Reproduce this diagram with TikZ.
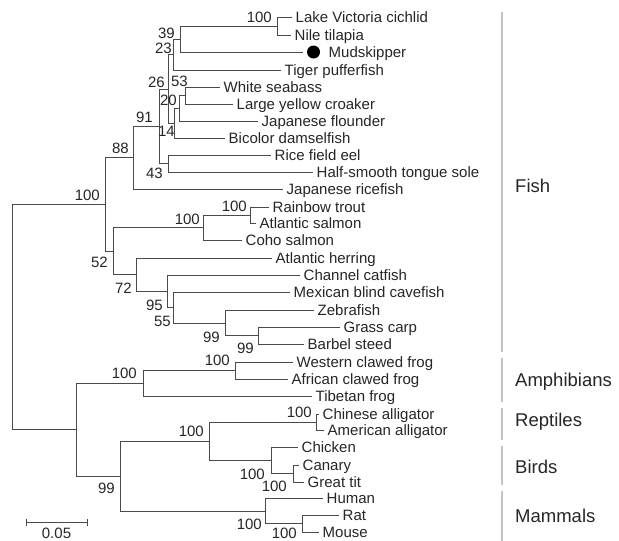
\documentclass[tikz,border=0pt]{standalone}
\usepackage{fontspec}
\setmainfont{Liberation Sans}
\definecolor{treeline}{HTML}{4A4A4A}
\definecolor{barline}{HTML}{C4C4C4}
\tikzset{
  branch/.style={draw=treeline, line width=0.9pt},
  leaf/.style={anchor=west, inner xsep=3.5pt, inner ysep=0pt, text height=12pt, text depth=2pt,
    font=\fontsize{15}{17}\selectfont, text=black!85},
  boot/.style={anchor=base east, inner sep=0pt, font=\fontsize{15}{17}\selectfont, text=black!85},
  group/.style={anchor=base west, inner sep=0pt, font=\fontsize{18.5}{21}\selectfont, text=black!85},
  groupbar/.style={draw=barline, line width=1.6pt},
}
\begin{document}
\begin{tikzpicture}[x=1pt,y=-1pt]
    \useasboundingbox[fill=white] (0,0) rectangle (619,541);
    % leaves
    \node[leaf] (cichlid) at (292,17) {Lake Victoria cichlid};
    \node[leaf] (tilapia) at (291,35) {Nile tilapia};
    \node[circle, fill=black, minimum size=13pt, inner sep=0pt, outer sep=4pt] (mud) at (313.5,52) {};
    \node[leaf] (mudtxt) at (325,52) {Mudskipper};
    \node[leaf] (puffer) at (281,70) {Tiger pufferfish};
    \node[leaf] (seabass) at (220,87) {White seabass};
    \node[leaf] (croaker) at (233,104) {Large yellow croaker};
    \node[leaf] (flounder) at (258,121) {Japanese flounder};
    \node[leaf] (damsel) at (225,138) {Bicolor damselfish};
    \node[leaf] (eel) at (271,155) {Rice field eel};
    \node[leaf] (sole) at (313,172) {Half-smooth tongue sole};
    \node[leaf] (ricefish) at (283,189) {Japanese ricefish};
    \node[leaf] (trout) at (269,207) {Rainbow trout};
    \node[leaf] (salmon) at (256,223) {Atlantic salmon};
    \node[leaf] (coho) at (242,240) {Coho salmon};
    \node[leaf] (herring) at (272,258) {Atlantic herring};
    \node[leaf] (catfish) at (300,275) {Channel catfish};
    \node[leaf] (cavefish) at (290,292) {Mexican blind cavefish};
    \node[leaf] (zebra) at (314,310) {Zebrafish};
    \node[leaf] (grass) at (340,327) {Grass carp};
    \node[leaf] (barbel) at (304,344) {Barbel steed};
    \node[leaf] (western) at (293,362) {Western clawed frog};
    \node[leaf] (african) at (288,379) {African clawed frog};
    \node[leaf] (tibetan) at (312,396) {Tibetan frog};
    \node[leaf] (chinalli) at (319,414) {Chinese alligator};
    \node[leaf] (amalli) at (324,430) {American alligator};
    \node[leaf] (chicken) at (298,447) {Chicken};
    \node[leaf] (canary) at (299,465) {Canary};
    \node[leaf] (greattit) at (304,482) {Great tit};
    \node[leaf] (human) at (323,498) {Human};
    \node[leaf] (rat) at (339,515) {Rat};
    \node[leaf] (mouse) at (319,532) {Mouse};
    % inner nodes
    \coordinate (cichlids) at (277,26);
    \coordinate (c39) at (180,39);
    \coordinate (c23) at (173,54.5);
    \coordinate (c53) at (185,95.5);
    \coordinate (c20) at (179,108);
    \coordinate (c14) at (174,123);
    \coordinate (c26) at (168,89);
    \coordinate (c43) at (168,163.5);
    \coordinate (c91) at (159,126);
    \coordinate (c88) at (133,157.5);
    \coordinate (trouts) at (250,215);
    \coordinate (salmonids) at (203,227.5);
    \coordinate (carps) at (258,335.5);
    \coordinate (cyprinids) at (225,323);
    \coordinate (c55) at (173,307.5);
    \coordinate (c95) at (167,291);
    \coordinate (c72) at (136,274.5);
    \coordinate (c52) at (113,251);
    \coordinate (fish) at (105,204);
    \coordinate (xenopus) at (235,370.5);
    \coordinate (amph) at (143,383);
    \coordinate (allig) at (316,422);
    \coordinate (tits) at (293,473.5);
    \coordinate (birds) at (271,460);
    \coordinate (sauro) at (209,441);
    \coordinate (murids) at (302,523.5);
    \coordinate (mamm) at (265,511);
    \coordinate (amnio) at (120,476);
    \coordinate (tetra) at (76,429.5);
    \coordinate (root) at (12,316.75);
    % branches
    \draw[branch] (cichlids) |- (cichlid.west) (cichlids) |- (tilapia.west);
    \draw[branch] (c39) |- (cichlids) (c39) |- (mud.west);
    \draw[branch] (c23) |- (c39) (c23) |- (puffer.west);
    \draw[branch] (c53) |- (seabass.west) (c53) |- (croaker.west);
    \draw[branch] (c20) |- (c53) (c20) |- (flounder.west);
    \draw[branch] (c14) |- (c20) (c14) |- (damsel.west);
    \draw[branch] (c26) |- (c23) (c26) |- (c14);
    \draw[branch] (c43) |- (eel.west) (c43) |- (sole.west);
    \draw[branch] (c91) |- (c26) (c91) |- (c43);
    \draw[branch] (c88) |- (c91) (c88) |- (ricefish.west);
    \draw[branch] (trouts) |- (trout.west) (trouts) |- (salmon.west);
    \draw[branch] (salmonids) |- (trouts) (salmonids) |- (coho.west);
    \draw[branch] (carps) |- (grass.west) (carps) |- (barbel.west);
    \draw[branch] (cyprinids) |- (zebra.west) (cyprinids) |- (carps);
    \draw[branch] (c55) |- (cavefish.west) (c55) |- (cyprinids);
    \draw[branch] (c95) |- (catfish.west) (c95) |- (c55);
    \draw[branch] (c72) |- (herring.west) (c72) |- (c95);
    \draw[branch] (c52) |- (salmonids) (c52) |- (c72);
    \draw[branch] (fish) |- (c88) (fish) |- (c52);
    \draw[branch] (xenopus) |- (western.west) (xenopus) |- (african.west);
    \draw[branch] (amph) |- (xenopus) (amph) |- (tibetan.west);
    \draw[branch] (allig) |- (chinalli.west) (allig) |- (amalli.west);
    \draw[branch] (tits) |- (canary.west) (tits) |- (greattit.west);
    \draw[branch] (birds) |- (chicken.west) (birds) |- (tits);
    \draw[branch] (sauro) |- (allig) (sauro) |- (birds);
    \draw[branch] (murids) |- (rat.west) (murids) |- (mouse.west);
    \draw[branch] (mamm) |- (human.west) (mamm) |- (murids);
    \draw[branch] (amnio) |- (sauro) (amnio) |- (mamm);
    \draw[branch] (tetra) |- (amph) (tetra) |- (amnio);
    \draw[branch] (root) |- (fish) (root) |- (tetra);
    % bootstrap values
    \node[boot] (b1) at (272,22) {100};
    \node[boot] (b2) at (175,38) {39};
    \node[boot] (b3) at (172,53) {23};
    \node[boot] (b4) at (165,87) {26};
    \node[boot] (b5) at (188,86) {53};
    \node[boot] (b6) at (177,105) {20};
    \node[boot] (b7) at (175,136) {14};
    \node[boot] (b8) at (153,122) {91};
    \node[boot] (b9) at (163,178) {43};
    \node[boot] (b10) at (129,153) {88};
    \node[boot] (b11) at (100,200) {100};
    \node[boot] (b12) at (247,211) {100};
    \node[boot] (b13) at (200,224) {100};
    \node[boot] (b14) at (108,267) {52};
    \node[boot] (b15) at (132,293) {72};
    \node[boot] (b16) at (163,310) {95};
    \node[boot] (b17) at (171,326) {55};
    \node[boot] (b18) at (220,342) {99};
    \node[boot] (b19) at (254,353) {99};
    \node[boot] (b20) at (230,365) {100};
    \node[boot] (b21) at (137,378) {100};
    \node[boot] (b22) at (312,417) {100};
    \node[boot] (b23) at (204,436) {100};
    \node[boot] (b24) at (265,479) {100};
    \node[boot] (b25) at (287,491) {100};
    \node[boot] (b26) at (115,493) {99};
    \node[boot] (b27) at (262,529) {100};
    \node[boot] (b28) at (297,538.5) {100};
    % groups
    \draw[groupbar] (502,12) -- (502,352);
    \draw[groupbar] (502,358) -- (502,402);
    \draw[groupbar] (502,408) -- (502,440);
    \draw[groupbar] (502,446) -- (502,485);
    \draw[groupbar] (502,491) -- (502,541);
    \node[group] (gfish) at (515,192) {Fish};
    \node[group] (gamph) at (515,386) {Amphibians};
    \node[group] (grept) at (515,426) {Reptiles};
    \node[group] (gbird) at (515,473) {Birds};
    \node[group] (gmamm) at (515,522) {Mammals};
    % scale bar
    \coordinate (sbl) at (26,522);
    \coordinate (sbr) at (87,522);
    \draw[branch] (sbl) -- (sbr);
    \draw[branch] ([yshift=-3.5pt]sbl) -- ([yshift=3.5pt]sbl);
    \draw[branch] ([yshift=-3.5pt]sbr) -- ([yshift=3.5pt]sbr);
    \node[boot, anchor=base] (sbtxt) at (56.5,538.5) {0.05};
\end{tikzpicture}
\end{document}
